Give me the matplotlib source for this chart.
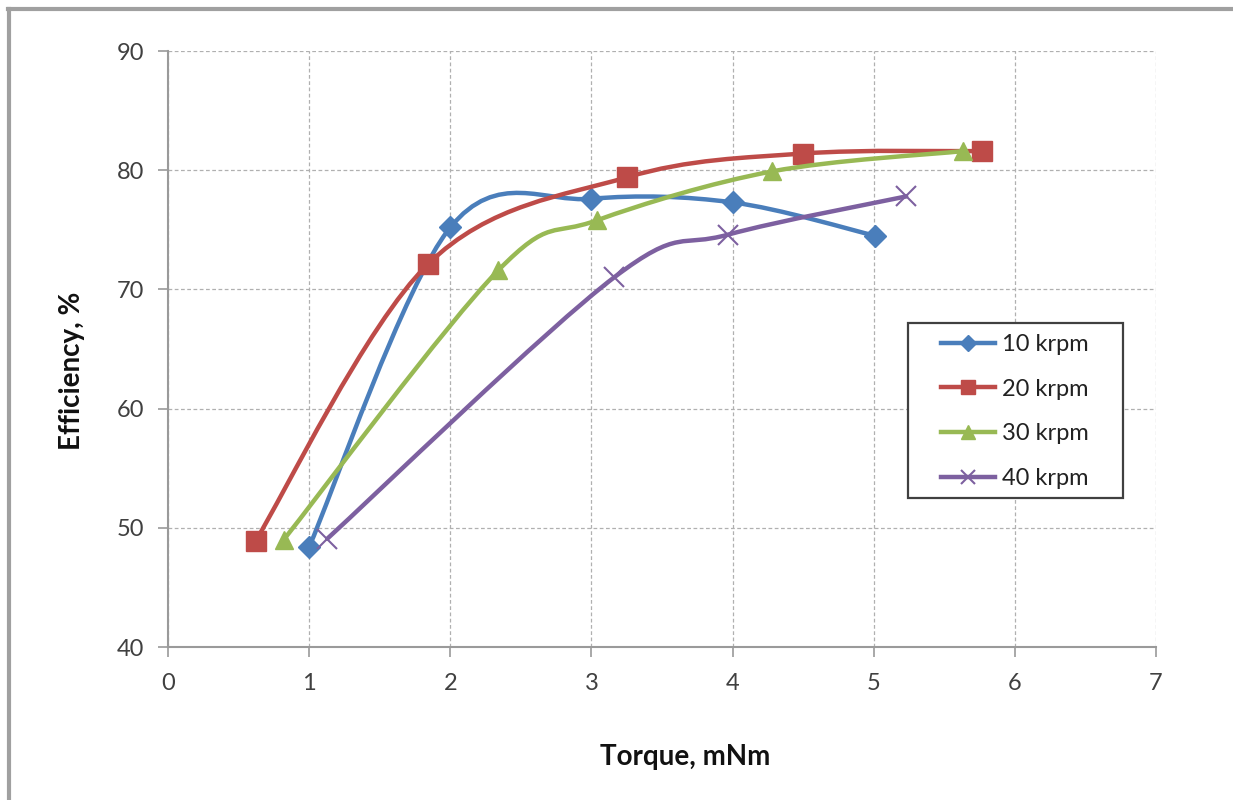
import matplotlib.pyplot as plt
from matplotlib.path import Path
from matplotlib.patches import PathPatch, Rectangle
from matplotlib.lines import Line2D

plt.rcParams['font.family'] = ['Lato', 'DejaVu Sans']

# data
labels = ['10 krpm', '20 krpm', '30 krpm', '40 krpm']
torque_10 = [1.0, 2.0, 3.0, 4.0, 5.01]
eff_10 = [48.4, 75.2, 77.6, 77.3, 74.5]
torque_20 = [0.62, 1.84, 3.25, 4.5, 5.77]
eff_20 = [48.9, 72.1, 79.4, 81.4, 81.6]
torque_30 = [0.82, 2.34, 3.04, 4.28, 5.63]
eff_30 = [49.0, 71.6, 75.8, 79.9, 81.6]
torque_40 = [1.13, 3.16, 3.97, 5.23]
eff_40 = [49.1, 71.0, 74.6, 77.8]

colors = ['#4A7EBB', '#BE4B48', '#98B954', '#7D60A0']
markers = ['D', 's', '^', 'x']
msizes = [11, 14, 13, 14]


def smooth_path(xs, ys):
    # bezier curve through the points, like excel's smoothed line
    pts = list(zip(xs, ys))
    n = len(pts)
    verts = [pts[0]]
    codes = [Path.MOVETO]
    for i in range(n - 1):
        p0 = pts[max(i - 1, 0)]
        p1 = pts[i]
        p2 = pts[i + 1]
        p3 = pts[min(i + 2, n - 1)]
        c1 = (p1[0] + (p2[0] - p0[0]) / 6, p1[1] + (p2[1] - p0[1]) / 6)
        c2 = (p2[0] - (p3[0] - p1[0]) / 6, p2[1] - (p3[1] - p1[1]) / 6)
        verts += [c1, c2, p2]
        codes += [Path.CURVE4] * 3
    return Path(verts, codes)


W, H = 1233, 800
fig = plt.figure(figsize=(W / 100, H / 100), dpi=100)
ax = fig.add_axes([168 / W, 1 - 647 / H, (1156 - 168) / W, (647 - 51) / H])

series = [(torque_10, eff_10), (torque_20, eff_20), (torque_30, eff_30), (torque_40, eff_40)]
handles = []
for i, (xs, ys) in enumerate(series):
    patch = PathPatch(smooth_path(xs, ys), facecolor='none', edgecolor=colors[i],
                      lw=3.2, zorder=3 + i, capstyle='round')
    ax.add_patch(patch)
    mew = 1.5 if markers[i] == 'x' else 1
    ax.plot(xs, ys, linestyle='none', marker=markers[i], markersize=msizes[i],
            color=colors[i], markeredgewidth=mew, zorder=3.5 + i)
    handles.append(Line2D([0], [0], color=colors[i], lw=3.2, marker=markers[i],
                          markersize=msizes[i] * 0.75, markeredgewidth=mew))

ax.set_xlim(0, 7)
ax.set_ylim(40, 90)
ax.set_xticks(range(0, 8))
ax.set_yticks(range(40, 91, 10))
ax.grid(True, color='#B0B0B0', linestyle=(0, (3, 2)), linewidth=0.9)
ax.set_axisbelow(True)
for side in ['top', 'right']:
    ax.spines[side].set_visible(False)
for side in ['left', 'bottom']:
    ax.spines[side].set_color('#9A9A9A')
    ax.spines[side].set_linewidth(1.5)
ax.tick_params(direction='out', length=7, width=1.2, color='#9A9A9A',
               labelsize=17, labelcolor='#404040')
ax.tick_params(axis='y', pad=10)
ax.tick_params(axis='x', pad=12)

fig.text(685 / W, 1 - 757 / H, 'Torque, mNm', ha='center', va='center',
         fontsize=20, fontweight='bold', color='#111111')
fig.text(72 / W, 1 - 371 / H, 'Efficiency, %', ha='center', va='center',
         rotation=90, fontsize=20, fontweight='bold', color='#111111')

# legend box drawn separately so the padding can match
box = Rectangle((908 / W, 1 - 498 / H), (1123 - 908) / W, (498 - 323) / H,
                transform=fig.transFigure, facecolor='white', edgecolor='#404040',
                lw=1.6, zorder=9, clip_on=False)
ax.add_patch(box)
leg = ax.legend(handles, labels, loc='upper left', bbox_to_anchor=(941 / W, 1 - 334 / H),
                bbox_transform=fig.transFigure, borderaxespad=0, borderpad=0, fontsize=17,
                frameon=False, handlelength=2.3, handletextpad=0.28, labelspacing=1.0)
leg.set_zorder(10)
for t in leg.get_texts():
    t.set_color('#222222')

# outer chart border
fig.add_artist(Line2D([8 / W, 1], [1 - 9 / H, 1 - 9 / H], transform=fig.transFigure,
                      color='#A0A0A0', lw=3))
fig.add_artist(Line2D([9 / W, 9 / W], [0, 1 - 9 / H], transform=fig.transFigure,
                      color='#A0A0A0', lw=3))

fig.savefig('out.png', dpi=100)
